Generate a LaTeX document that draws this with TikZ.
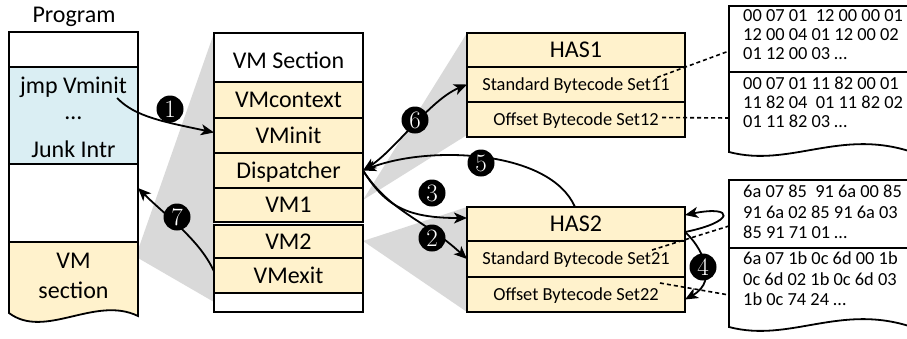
\documentclass[tikz,border=0pt]{standalone}
\usepackage{fontspec}
\newfontfamily\calibri{Carlito}
\usetikzlibrary{arrows.meta}
\definecolor{cellyellow}{HTML}{FFF2CC}
\definecolor{cellblue}{HTML}{DAEEF3}
\definecolor{shadegray}{HTML}{D9D9D9}
\newcommand\mainsz{\calibri\fontsize{24}{28}\selectfont}
\newcommand\hexsz{\calibri\fontsize{18.4}{20}\selectfont}

\begin{document}
\begin{tikzpicture}[x=1pt,y=-1pt,
  box/.style={draw=black, line width=1.8pt, inner sep=0pt, outer sep=0pt,
              text height=15.5pt, text depth=0pt, font=\mainsz},
  progcell/.style={box, minimum width=129pt},
  vmcell/.style={box, minimum width=149pt, fill=cellyellow},
  hascell/.style={box, minimum width=218pt, fill=cellyellow},
  hassmall/.style={hascell, text height=11.8pt, font=\hexsz},
  txt/.style={inner sep=0pt, text height=15.5pt, text depth=0pt, font=\mainsz},
  hex/.style={anchor=west, inner sep=0pt, text height=11.6pt, text depth=0pt, font=\hexsz},
  badge/.style={circle, fill=black, text=white, minimum size=27pt, inner sep=0pt,
                text height=16pt, text depth=0pt, font=\fontsize{25}{25}\selectfont},
  arr/.style={line width=1.8pt, -{Stealth[length=13pt,width=11pt,inset=3.5pt]}},
  arrboth/.style={line width=1.8pt, {Stealth[length=13pt,width=11pt,inset=3.5pt]}-{Stealth[length=13pt,width=11pt,inset=3.5pt]}},
  dashlink/.style={line width=1.6pt, dash pattern=on 4pt off 3pt},
  docline/.style={line width=1.8pt},
]
\useasboundingbox (0,0) rectangle (907,338);
\clip (0,0) rectangle (907,338);

% shaded wedges linking a section to its expansion
\fill[shadegray] (138,250) -- (214,33) -- (214,302) -- (138,258) -- cycle;
\fill[shadegray] (363,200) -- (467,33) -- (467,135) -- cycle;
\fill[shadegray] (363,241) -- (467,207) -- (467,312) -- cycle;

% program layout
\node[txt] (progtitle) at (74,14.5) {Program};
\node[progcell, minimum height=35pt] (ptop) at (73.5,49.5) {};
\node[progcell, minimum height=97pt, fill=cellblue] (pcode) at (73.5,115.5) {};
\node[progcell, minimum height=78pt] (pgap) at (73.5,203) {};
\draw[docline, fill=cellyellow] (9,242) -- (138,242) -- (138,316)
  .. controls (95,295) and (45,340) .. (9,313) -- cycle;
\node[txt] (jmp) at (73.5,86) {jmp Vminit};
\node[txt] (ell) at (73.5,112) {…};
\node[txt] (junk) at (73.5,149.5) {Junk Intr};
\node[txt] (vmsecA) at (73.5,260.5) {VM};
\node[txt] (vmsecB) at (73.5,290.3) {section};

% VM section
\node[vmcell, fill=white, minimum height=49pt] (vmtitle) at (288.5,57.5) {};
\node[txt] (vmtitletext) at (288.5,60.5) {VM Section};
\node[vmcell, minimum height=36pt] (vmctx) at (288.5,100) {VMcontext};
\node[vmcell, minimum height=35pt] (vminit) at (288.5,135.5) {VMinit};
\node[vmcell, minimum height=35pt] (disp) at (288.5,170.5) {Dispatcher};
\node[vmcell, minimum height=34pt] (vmone) at (288.5,205) {VM1};
\node[vmcell, minimum height=33pt] (vmtwo) at (288.5,241.5) {VM2};
\node[vmcell, minimum height=35pt] (vmexit) at (288.5,275.5) {VMexit};
\node[vmcell, fill=white, minimum height=19pt] (vmend) at (288.5,302.5) {};

% handler address sets
\node[hascell, minimum height=34pt] (hasone) at (576,50) {HAS1};
\node[hassmall, minimum height=35pt] (std11) at (576,84.5) {Standard Bytecode Set11};
\node[hassmall, minimum height=35pt] (off12) at (576,119.5) {Offset Bytecode Set12};
\node[hascell, minimum height=34pt] (hastwo) at (576,224) {HAS2};
\node[hassmall, minimum height=36pt] (std21) at (576,259) {Standard Bytecode Set21};
\node[hassmall, minimum height=35pt] (off22) at (576,294.5) {Offset Bytecode Set22};

% bytecode listings
\draw[docline, fill=white] (912,6) -- (729,6) -- (729,152)
  .. controls (790,168) and (840,128) .. (912,152);
\draw[docline] (729,72) -- (912,72);
\node[hex] (ha1) at (743,15.2) {00 07 01~ 12 00 00 01};
\node[hex] (ha2) at (743,34.2) {12 00 04 01 12 00 02};
\node[hex] (ha3) at (743,53.2) {01 12 00 03 …};
\node[hex] (hb1) at (743,83.2) {00 07 01 11 82 00 01};
\node[hex] (hb2) at (743,102.2) {11 82 04~ 01 11 82 02};
\node[hex] (hb3) at (743,121.2) {01 11 82 03 …};

\draw[docline, fill=white] (912,180) -- (729,180) -- (729,327)
  .. controls (790,343) and (840,303) .. (912,327);
\draw[docline] (729,248) -- (912,248);
\node[hex] (hc1) at (743,191.5) {6a 07 85~ 91 6a 00 85};
\node[hex] (hc2) at (743,212.3) {91 6a 02 85 91 6a 03};
\node[hex] (hc3) at (743,232.2) {85 91 71 01 …};
\node[hex] (hd1) at (743,258.5) {6a 07 1b 0c 6d 00 1b};
\node[hex] (hd2) at (743,279.2) {0c 6d 02 1b 0c 6d 03};
\node[hex] (hd3) at (743,299.2) {1b 0c 74 24 …};

\coordinate (docA) at (729,51);
\coordinate (docB) at (729,118);
\coordinate (docC) at (729,226);
\coordinate (docD) at (729,295);

% dashed links to the listings
\draw[dashlink] ([xshift=-28pt,yshift=7pt]std11.east) -- (docA);
\draw[dashlink] ([xshift=-23pt,yshift=2pt]off12.east) -- (docB);
\draw[dashlink] ([xshift=-33pt,yshift=9pt]std21.east) -- (docC);
\draw[dashlink] ([xshift=-25pt,yshift=11.5pt]off22.east) -- (docD);

% control flow
\draw[arr] ([xshift=-10pt,yshift=-4pt]jmp.south east)
  .. controls (135,117) and (165,122) .. ([yshift=3pt]vminit.west);
\draw[arr] ([yshift=4pt]vmexit.west)
  .. controls (200,240) and (165,215) .. ([yshift=15pt]pgap.east);
\draw[arrboth] (disp.east) .. controls (395,150) and (430,100) .. (std11.west);
\draw[arr] ([xshift=-1pt]hastwo.north) .. controls (550,150) and (430,145) .. (disp.east);
\draw[arr] (disp.east) .. controls (385,205) and (405,218) .. ([yshift=6pt]hastwo.west);
\draw[arr] (disp.east) .. controls (390,212) and (425,220) .. (std21.west);
\draw[arr] ([yshift=-8pt]hastwo.east) .. controls (735,222) and (735,205) .. ([yshift=9pt]hastwo.east);
\draw[arr] ([yshift=-8pt]hastwo.east) .. controls (700,245) and (720,280) .. ([yshift=-5pt]off22.east);

% step numbers
\node[badge] (b1) at (170,109) {1};
\node[badge] (b2) at (432,238) {2};
\node[badge] (b3) at (432,193) {3};
\node[badge] (b4) at (703,267) {4};
\node[badge] (b5) at (481,163) {5};
\node[badge] (b6) at (415,120) {6};
\node[badge] (b7) at (177,217) {7};
\end{tikzpicture}
\end{document}
